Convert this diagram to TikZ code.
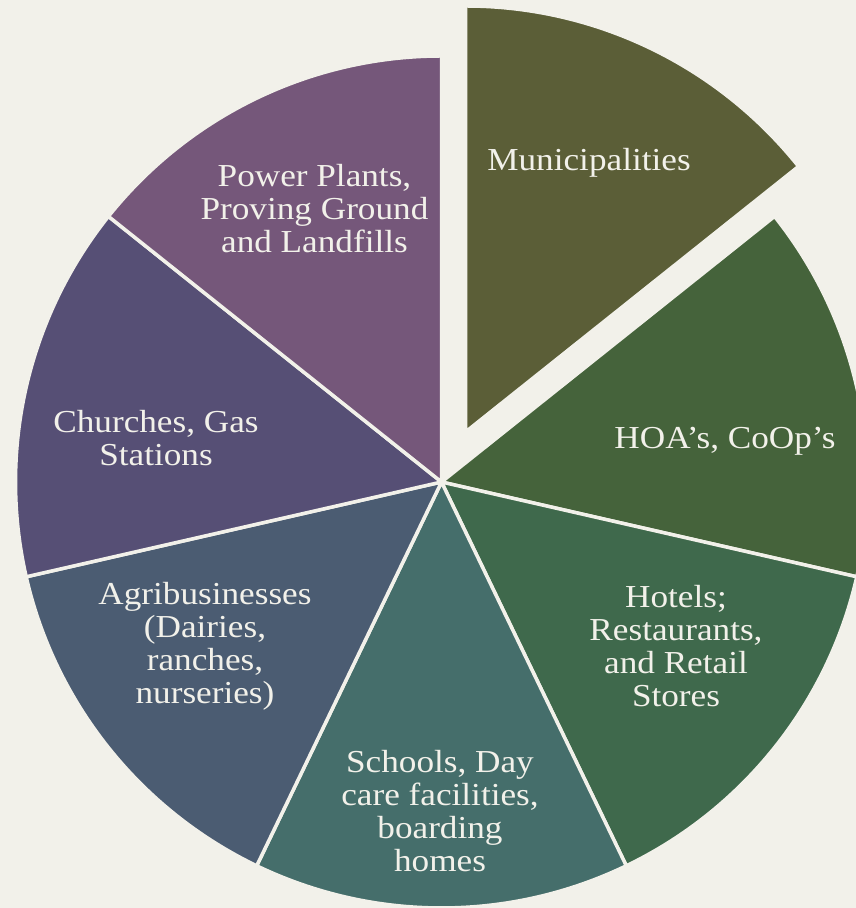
\documentclass[tikz,border=0pt]{standalone}
\usepackage{fontspec}
\setmainfont{Liberation Serif}[FakeStretch=1.1]
\usepackage{tikz}
\usetikzlibrary{calc,positioning}
\definecolor{paper}{HTML}{F2F1EA}
\definecolor{muni}{HTML}{5B5E37}
\definecolor{hoa}{HTML}{45633B}
\definecolor{hotels}{HTML}{3F694C}
\definecolor{schools}{HTML}{456E6B}
\definecolor{agri}{HTML}{4B5C72}
\definecolor{churches}{HTML}{564F75}
\definecolor{power}{HTML}{75577A}
\tikzset{%
	slice/.style     = {draw=paper, line width=3.5pt, line join=round},
	slicetext/.style = {text=paper, align=center, font=\fontsize{32}{33}\selectfont},
}

\begin{document}
\begin{tikzpicture}[x=1pt,y=1pt]
	\fill[paper] (0,0) rectangle (856,908);  % background
	\useasboundingbox (0,0) rectangle (856,908);
	\clip (0,0) rectangle (856,908);
	\coordinate (centre) at (441.5,426);
	\coordinate (apex) at (465.5,476);  % pulled out slice
	
	\foreach \from/\to/\col in {38.57/-12.86/hoa, -12.86/-64.29/hotels, -64.29/-115.71/schools, -115.71/-167.14/agri, 192.86/141.43/churches, 141.43/90/power}
		\filldraw[slice, fill=\col] (centre) -- ++(\from:426) arc[start angle=\from, end angle=\to, radius=426] -- cycle;
	
	\filldraw[slice, fill=muni] (apex) -- ++(90:426) arc[start angle=90, end angle=38.57, radius=426] -- cycle;
	
	\node[slicetext] (municipal) at (589,745) {Municipalities};
	\node[slicetext] (hoas) at (725,467) {HOA’s, CoOp’s};
	\node[slicetext] (hotel) at (676,262) {Hotels;\\ Restaurants,\\ and Retail\\ Stores};
	\node[slicetext] (school) at (440,97) {Schools, Day\\ care facilities,\\ boarding\\ homes};
	\node[slicetext] (agribiz) at (205,262) {Agribusinesses\\ (Dairies,\\ ranches,\\ nurseries)};
	\node[slicetext] (church) at (156,470) {Churches, Gas\\ Stations};
	\node[slicetext] (plants) at (314.5,699) {Power Plants,\\ Proving Ground\\ and Landfills};
\end{tikzpicture}
\end{document}
